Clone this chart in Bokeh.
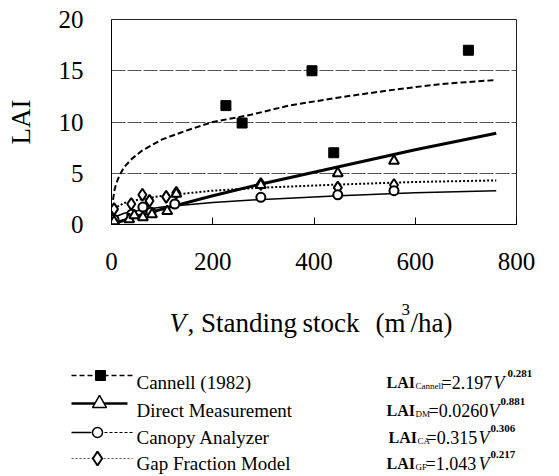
from bokeh.plotting import figure
from bokeh.models import Range1d, FixedTicker
from bokeh.layouts import column
from bokeh.embed import file_html
from bokeh.resources import INLINE
from bokeh.core.properties import value

# ---------------- data ----------------
x_ticks = [0, 200, 400, 600, 800]
y_ticks = [0, 5, 10, 15, 20]
grid_ticks = [5, 10, 15]

# observed points
cannell_v = [226, 258, 396, 439, 705]
cannell_lai = [11.6, 9.9, 15.0, 7.0, 17.0]

dm_v = [5, 35, 45, 62, 80, 110, 128, 295, 447, 558]
dm_lai = [0.3, 0.5, 0.9, 0.7, 1.0, 1.3, 3.0, 3.85, 5.0, 6.2]

ca_v = [5, 40, 62, 78, 125, 295, 447, 558]
ca_lai = [0.5, 1.0, 1.7, 1.2, 2.0, 2.65, 2.9, 3.3]

gf_v = [5, 39, 61, 75, 108, 128, 295, 447, 558]
gf_lai = [1.5, 2.0, 2.9, 2.3, 2.7, 3.1, 3.95, 3.6, 3.85]

# fitted curves
cannell_fit_v = [3, 6, 10, 15, 25, 40, 60, 100, 150, 200, 275, 350, 450, 550, 650, 760]
cannell_fit_lai = [2.4, 3.4, 4.1, 4.7, 5.6, 6.4, 7.2, 8.3, 9.2, 10.0, 10.7, 11.6, 12.4, 13.1, 13.7, 14.1]

dm_fit_v = [2, 50, 100, 200, 300, 400, 500, 600, 760]
dm_fit_lai = [0.05, 0.8, 1.5, 2.8, 4.0, 5.1, 6.2, 7.3, 8.9]

ca_fit_v = [3, 10, 25, 50, 100, 200, 300, 450, 600, 760]
ca_fit_lai = [0.55, 0.8, 1.1, 1.35, 1.7, 2.15, 2.45, 2.8, 3.1, 3.3]

gf_fit_v = [5, 10, 25, 50, 100, 200, 300, 450, 600, 760]
gf_fit_lai = [1.5, 1.7, 2.1, 2.4, 2.8, 3.3, 3.6, 3.9, 4.15, 4.3]

legend_labels = ["Cannell (1982)", "Direct Measurement", "Canopy Analyzer", "Gap Fraction Model"]
formula_subs = ["Cannell", "DM", "CA", "GF"]
formula_coefs = ["=2.197", "=0.0260", "=0.315", "=1.043"]
formula_exps = ["0.281", "0.881", "0.306", "0.217"]

SERIF = "Liberation Serif"

# ---------------- main plot ----------------
p = figure(width=559, height=290, x_range=Range1d(0, 800), y_range=Range1d(0, 20),
           output_backend="svg", toolbar_location=None,
           min_border_left=111, min_border_right=43, min_border_top=19, min_border_bottom=66)
p.frame_align = False
p.background_fill_color = "white"
p.border_fill_color = "white"
p.outline_line_color = "#222222"
p.outline_line_width = 1

p.xgrid.visible = False
p.ygrid.ticker = FixedTicker(ticks=grid_ticks)
p.ygrid.grid_line_color = "#555555"
p.ygrid.grid_line_width = 1
p.ygrid.grid_line_dash = "14 2"

p.xaxis.ticker = FixedTicker(ticks=x_ticks)
p.yaxis.ticker = FixedTicker(ticks=y_ticks)
for ax in (p.xaxis[0], p.yaxis[0]):
    ax.axis_line_color = "black"
    ax.major_tick_out = 0
    ax.minor_tick_in = 0
    ax.minor_tick_out = 0
    ax.major_label_text_font = SERIF
    ax.major_label_text_font_size = "25px"
    ax.major_label_text_color = "black"
p.xaxis.major_tick_in = 7
p.xaxis.major_tick_line_color = "black"
p.yaxis.major_tick_in = 0
p.xaxis.major_label_standoff = 28
p.yaxis.major_label_standoff = 28
p.yaxis.axis_label = "LAI"
p.yaxis.axis_label_text_font = SERIF
p.yaxis.axis_label_text_font_size = "27px"
p.yaxis.axis_label_text_font_style = "normal"
p.yaxis.axis_label_text_color = "black"
p.yaxis.axis_label_standoff = 20

# fitted curves
p.line(cannell_fit_v, cannell_fit_lai, line_color="black", line_width=2, line_dash="6 3")
p.line(dm_fit_v, dm_fit_lai, line_color="black", line_width=3)
p.line(ca_fit_v, ca_fit_lai, line_color="black", line_width=1.5)
p.line(gf_fit_v, gf_fit_lai, line_color="black", line_width=2, line_dash="2 2")

# points
p.scatter(gf_v, gf_lai, marker="diamond", size=12, fill_color="white", line_color="black", line_width=2)
p.scatter(ca_v, ca_lai, marker="circle", size=9, fill_color="white", line_color="black", line_width=2)
p.scatter(dm_v, dm_lai, marker="triangle", size=10, fill_color="white", line_color="black", line_width=2)
p.scatter(cannell_v, cannell_lai, marker="square", size=10, fill_color="black", line_color="black")

# ---------------- lower panel: axis title and legend ----------------
OX, OY = 0, 290  # page offset of the lower panel
q = figure(width=559, height=186, x_range=Range1d(0, 559), y_range=Range1d(186, 0),
           output_backend="svg", toolbar_location=None, x_axis_type=None, y_axis_type=None,
           min_border_left=0, min_border_right=0, min_border_top=0, min_border_bottom=0)
q.frame_align = False
q.outline_line_color = None
q.grid.visible = False
q.background_fill_color = "white"
q.border_fill_color = "white"

def txt(x, y, s, size, style="normal", align="left"):
    q.text(x=[x - OX], y=[y - OY], text=[s], text_font=value(SERIF),
           text_font_size=value(size), text_font_style=style,
           text_align=align, text_baseline="alphabetic", text_color="black")

# x-axis title
xl_base = 322
txt(169, xl_base, "V", "27px", "italic")
txt(187, xl_base, ", Standing", "27px")
txt(302, xl_base, "stock", "27px")
txt(375, xl_base, "(m", "27px")
txt(401, xl_base - 13, "3", "17px")
txt(410, xl_base, "/ha)", "27px")

# legend rows
row_text_base = [382, 410, 437, 463]
row_mid = [375, 403, 432, 458]
lx0, lx1, mx = 71, 132, 99

# row 1: Cannell
y = row_mid[0] - OY
q.line([lx0 - OX, lx1 - OX], [y, y], line_color="black", line_width=1.5, line_dash="5 3")
q.scatter([mx + 1 - OX], [y], marker="square", size=10, fill_color="black", line_color="black")
# row 2: DM
y = row_mid[1] - OY
q.line([lx0 - OX, lx1 - 5 - OX], [y, y], line_color="black", line_width=2.5)
q.scatter([mx - OX], [y], marker="triangle", size=14, fill_color="white", line_color="black", line_width=1.5)
# row 3: CA
y = row_mid[2] - OY
q.line([lx0 - OX, mx - 8 - OX], [y, y], line_color="black", line_width=1.5)
q.line([mx + 5 - OX, lx1 - OX], [y, y], line_color="black", line_width=1, line_dash="3 2")
q.scatter([mx - 2 - OX], [y], marker="circle", size=10, fill_color="white", line_color="black", line_width=1.5)
# row 4: GF
y = row_mid[3] - OY
q.line([lx0 - OX, lx1 - OX], [y, y], line_color="#555555", line_width=1, line_dash="2 2")
q.scatter([mx - 2 - OX], [y], marker="diamond", size=14, fill_color="white", line_color="black", line_width=2)

for lab, yb in zip(legend_labels, row_text_base):
    txt(136, yb, lab, "19px")

# formulas
f_lai_x = [386, 386, 388, 386]
f_coef_x = [441, 428, 426, 425]
f_v_x = [493, 488, 478, 478]
f_exp_x = [507, 500, 490, 490]
for i in range(4):
    yb = row_text_base[i]
    txt(f_lai_x[i], yb, "LAI", "16px", "bold")
    txt(f_lai_x[i] + 29, yb + 3, formula_subs[i], "9px")
    txt(f_coef_x[i], yb, formula_coefs[i], "18px")
    txt(f_v_x[i], yb, "V", "18px", "italic")
    txt(f_exp_x[i], yb - 9, formula_exps[i], "11px", "bold")

layout = column(p, q, spacing=0)
open("out.html", "w").write(file_html(layout, INLINE))
